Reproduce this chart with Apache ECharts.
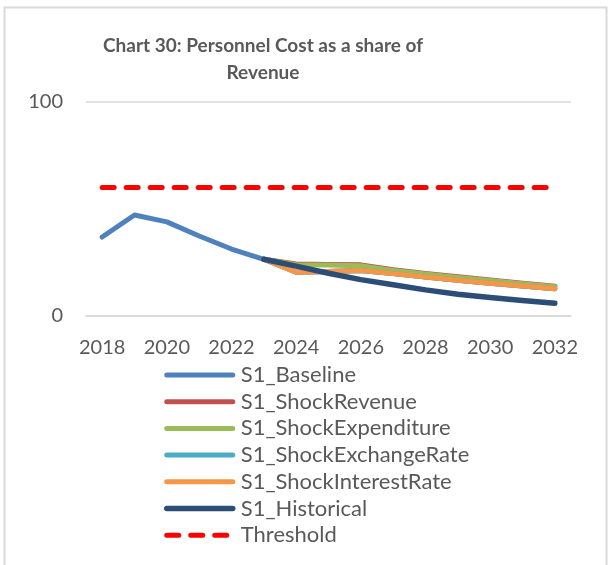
<!DOCTYPE html>
<html>
<head>
<meta charset="utf-8">
<script src="https://cdn.jsdelivr.net/npm/echarts@6/dist/echarts.min.js"></script>
<style>
  html, body { margin: 0; padding: 0; background: #fff; }
  #chart { width: 608px; height: 565px; }
</style>
</head>
<body>
<div id="chart"></div>
<script>
// values
const years = ['2018', '2019', '2020', '2021', '2022', '2023', '2024', '2025',
  '2026', '2027', '2028', '2029', '2030', '2031', '2032']
const baseline = [36.9, 47.2, 44, 37.4, 31.3, 26.5, 20.5, 20.8, 21.3, 19.8, 18.2, 16.7, 15.3, 14, 12.7]
const shockRevenue = [null, null, null, null, null, 26.5, 24.3, 24.1, 23.9, 21.6, 19.9, 18.3, 16.8, 15.3, 13.9]
const shockExpenditure = [null, null, null, null, null, 26.5, 24, 23.8, 23.5, 21.3, 19.6, 18, 16.6, 15.1, 13.7]
const shockExchangeRate = [null, null, null, null, null, 26.5, 20.5, 20.8, 21.3, 19.8, 18.2, 16.7, 15.3, 14, 12.7]
const shockInterestRate = [null, null, null, null, null, 26.5, 20.5, 20.8, 21.3, 19.8, 18.2, 16.7, 15.3, 14, 12.7]
const historical = [null, null, null, null, null, 26.5, 23.3, 20, 17, 14.6, 12.2, 10.2, 8.6, 7.2, 6]
const threshold = [60, 60, 60, 60, 60, 60, 60, 60, 60, 60, 60, 60, 60, 60, 60]
const yTicks = [0, 100]

const font = 'Lato'
const textGrey = '#595959'

const chart = echarts.init(document.getElementById('chart'))

function line(name, data, color, width) {
  return {
    name,
    type: 'line',
    data,
    symbol: 'none',
    connectNulls: false,
    lineStyle: { color, width, cap: 'round', join: 'round' },
    itemStyle: { color },
    emphasis: { disabled: true }
  }
}

const series = [
  line('S1_Baseline', baseline, '#4F81BD', 5),
  line('S1_ShockRevenue', shockRevenue, '#C0504D', 5),
  line('S1_ShockExpenditure', shockExpenditure, '#9BBB59', 5),
  line('S1_ShockExchangeRate', shockExchangeRate, '#4BACC6', 5),
  line('S1_ShockInterestRate', shockInterestRate, '#F79646', 5),
  line('S1_Historical', historical, '#2C4D75', 5.5),
  line('Threshold', threshold, '#FF0000', 5)
]
series[6].lineStyle.type = [12, 12]

chart.setOption({
  animation: false,
  textStyle: { fontFamily: font, color: textGrey },
  graphic: [
    {
      type: 'rect',
      shape: { x: 4.5, y: 7.5, width: 602, height: 580 },
      style: { fill: 'none', stroke: '#D9D9D9', lineWidth: 2 },
      silent: true
    },
    {
      type: 'text',
      x: 263,
      y: 32,
      style: {
        text: 'Chart 30: Personnel Cost as a share of\nRevenue',
        fontFamily: font,
        fontWeight: 'bold',
        fontSize: 19,
        lineHeight: 27,
        fill: textGrey,
        textAlign: 'center'
      }
    }
  ],
  grid: { left: 86, right: 37, top: 102, bottom: 249, containLabel: false },
  legend: {
    orient: 'vertical',
    left: 164,
    top: 364,
    padding: 0,
    itemWidth: 66,
    itemHeight: 20,
    itemGap: 4.7,
    itemStyle: { opacity: 0 },
    lineStyle: { width: 'inherit', cap: 'round' },
    textStyle: { fontFamily: font, fontSize: 22, lineHeight: 20, color: textGrey, padding: [0, 0, 0, 3] },
    data: series.map(s => s.name)
  },
  xAxis: {
    type: 'category',
    data: years,
    boundaryGap: true,
    axisLine: { lineStyle: { color: '#D9D9D9', width: 1.5 } },
    axisTick: { show: false },
    axisLabel: { interval: 1, margin: 22, fontSize: 20, color: textGrey, fontFamily: font }
  },
  yAxis: {
    type: 'value',
    min: yTicks[0],
    max: yTicks[1],
    interval: 100,
    axisLine: { show: false },
    axisTick: { show: false },
    axisLabel: { margin: 23, fontSize: 20, color: textGrey, fontFamily: font },
    splitLine: { lineStyle: { color: '#D9D9D9', width: 1.5 } }
  },
  series
})
</script>
</body>
</html>
